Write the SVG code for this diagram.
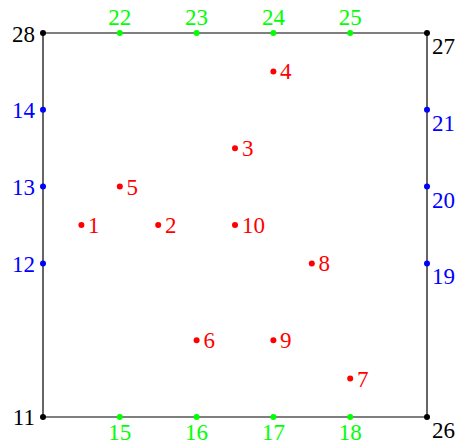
<svg xmlns="http://www.w3.org/2000/svg" width="456" height="444" viewBox="0 0 456 444">
<style>
text{font-size:23px}
.r{fill:#ff0000}.g{fill:#00ff00}.b{fill:#0000ff}.k{fill:#000}
.e{text-anchor:end}.m{text-anchor:middle}
</style>
<rect width="456" height="444" fill="#fff"/>
<g id="connectors">
<polyline points="43,33 427,33 427,417 43,417 43,33" fill="none" stroke="#000" stroke-width="1.2"/>
</g>
<g font-family="'Liberation Serif', 'DejaVu Serif', serif">
<g id="n28"><circle cx="43" cy="33" r="3" class="k"/><text x="35" y="41.5" class="k e">28</text></g>
<g id="n27"><circle cx="427" cy="33" r="3" class="k"/><text x="432" y="54" class="k">27</text></g>
<g id="n11"><circle cx="43" cy="417" r="3" class="k"/><text x="35" y="425" class="k e">11</text></g>
<g id="n26"><circle cx="427" cy="417" r="3" class="k"/><text x="432" y="438" class="k">26</text></g>
<g id="n22"><circle cx="119.8" cy="33" r="3" class="g"/><text x="119.8" y="25" class="g m">22</text></g>
<g id="n23"><circle cx="196.6" cy="33" r="3" class="g"/><text x="196.6" y="25" class="g m">23</text></g>
<g id="n24"><circle cx="273.4" cy="33" r="3" class="g"/><text x="273.4" y="25" class="g m">24</text></g>
<g id="n25"><circle cx="350.2" cy="33" r="3" class="g"/><text x="350.2" y="25" class="g m">25</text></g>
<g id="n15"><circle cx="119.8" cy="417" r="3" class="g"/><text x="119.8" y="440" class="g m">15</text></g>
<g id="n16"><circle cx="196.6" cy="417" r="3" class="g"/><text x="196.6" y="440" class="g m">16</text></g>
<g id="n17"><circle cx="273.4" cy="417" r="3" class="g"/><text x="273.4" y="440" class="g m">17</text></g>
<g id="n18"><circle cx="350.2" cy="417" r="3" class="g"/><text x="350.2" y="440" class="g m">18</text></g>
<g id="n14"><circle cx="43" cy="109.8" r="3" class="b"/><text x="35" y="118" class="b e">14</text></g>
<g id="n13"><circle cx="43" cy="186.6" r="3" class="b"/><text x="35" y="195" class="b e">13</text></g>
<g id="n12"><circle cx="43" cy="263.4" r="3" class="b"/><text x="35" y="272" class="b e">12</text></g>
<g id="n21"><circle cx="427" cy="109.8" r="3" class="b"/><text x="432" y="131" class="b">21</text></g>
<g id="n20"><circle cx="427" cy="186.6" r="3" class="b"/><text x="432" y="208" class="b">20</text></g>
<g id="n19"><circle cx="427" cy="263.4" r="3" class="b"/><text x="432" y="284" class="b">19</text></g>
<g id="n1"><circle cx="81.4" cy="225" r="3" class="r"/><text x="88" y="233" class="r">1</text></g>
<g id="n2"><circle cx="158.2" cy="225" r="3" class="r"/><text x="165" y="233" class="r">2</text></g>
<g id="n3"><circle cx="235" cy="148.2" r="3" class="r"/><text x="242" y="156" class="r">3</text></g>
<g id="n4"><circle cx="273.4" cy="71.4" r="3" class="r"/><text x="280" y="79" class="r">4</text></g>
<g id="n5"><circle cx="119.8" cy="186.6" r="3" class="r"/><text x="126.5" y="194.5" class="r">5</text></g>
<g id="n6"><circle cx="196.6" cy="340.2" r="3" class="r"/><text x="203.5" y="348" class="r">6</text></g>
<g id="n7"><circle cx="350.2" cy="378.6" r="3" class="r"/><text x="357" y="386.5" class="r">7</text></g>
<g id="n8"><circle cx="311.8" cy="263.4" r="3" class="r"/><text x="318.5" y="271" class="r">8</text></g>
<g id="n9"><circle cx="273.4" cy="340.2" r="3" class="r"/><text x="280" y="348" class="r">9</text></g>
<g id="n10"><circle cx="235" cy="225" r="3" class="r"/><text x="242" y="233" class="r">10</text></g>
</g>
</svg>
